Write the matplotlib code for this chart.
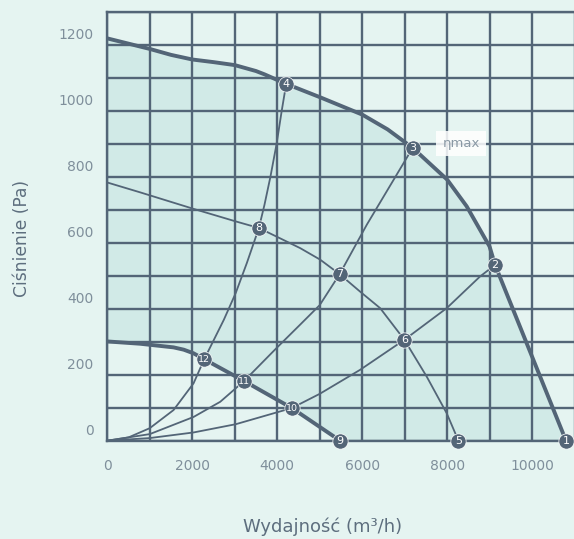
import matplotlib
matplotlib.use("Agg")
import matplotlib.pyplot as plt
import matplotlib.transforms as mtransforms
import numpy as np

# ---------------- data (flow m3/h, pressure Pa) ----------------
max_q = [0, 1000, 1500, 2000, 2500, 3000, 3500, 3700, 4212, 5000, 6000, 6600, 7190, 8000, 8460, 9000, 9130, 10800]
max_p = [1220, 1188, 1170, 1156, 1148, 1139, 1121, 1111, 1082, 1042, 989, 944, 888, 792, 711, 589, 533, 0]

mid_q = [0, 776, 2031, 3024, 3569, 4000, 4541, 5012, 5470, 5953, 6424, 6995, 7522, 7992, 8267]
mid_p = [783, 753, 703, 665, 645, 618, 584, 549, 505, 452, 402, 306, 194, 83, 0]

low_q = [0, 776, 1560, 1800, 2031, 2282, 3220, 4345, 5482]
low_p = [301, 294, 283, 276, 265, 247, 181, 99, 0]

sysA_q = [0, 500, 1000, 1560, 2031, 2282, 2745, 3024, 3286, 3569, 3700, 3840, 3986, 4106, 4212]
sysA_p = [0, 10, 38, 93, 174, 247, 367, 448, 539, 645, 715, 800, 900, 1000, 1082]

sysB_q = [0, 1000, 2031, 2659, 2900, 3220, 4000, 4541, 5000, 5470, 6110, 7190]
sysB_p = [0, 20, 72, 118, 145, 181, 283, 352, 411, 505, 655, 888]

sysC_q = [0, 1000, 2031, 3024, 4345, 5000, 5953, 6995, 7992, 8776, 9130]
sysC_p = [0, 8, 25, 50, 99, 142, 215, 306, 402, 498, 533]

point_labels = ["1", "2", "3", "4", "5", "6", "7", "8", "9", "10", "11", "12"]
point_q = [10800, 9130, 7190, 4212, 8267, 6995, 5470, 3569, 5482, 4345, 3220, 2282]
point_p = [0, 533, 888, 1082, 0, 306, 505, 645, 0, 99, 181, 247]

x_ticks = [0, 2000, 4000, 6000, 8000, 10000]
y_ticks = [0, 200, 400, 600, 800, 1000, 1200]

# ---------------- style ----------------
BG = "#e5f4f1"
SHADE = "#d1eae7"
LINE = "#536577"
TICK = "#7f8f9b"
LABEL = "#5d6e7e"

fig = plt.figure(figsize=(5.74, 5.39), dpi=100, facecolor=BG)
ax = fig.add_axes([107.3 / 574, 1 - 440.7 / 539, (574.5 - 107.3) / 574, (440.7 - 12) / 539])
ax.set_facecolor(BG)
ax.set_xlim(0, 11000)
ax.set_ylim(0, 1300)

# grid every 1000 m3/h and 100 Pa
ax.set_xticks(np.arange(0, 11001, 1000))
ax.set_yticks(np.arange(0, 1301, 100))
ax.set_xticklabels([f"{int(v)}" if v in x_ticks else "" for v in np.arange(0, 11001, 1000)])
ax.set_yticklabels([f"{int(v)}" if v in y_ticks else "" for v in np.arange(0, 1301, 100)])
ax.set_axisbelow(True)
ax.grid(True, color=LINE, lw=1.7)
ax.tick_params(length=0, colors=TICK, labelsize=10)
ax.tick_params(axis="x", pad=13)
ax.tick_params(axis="y", pad=10)
for s in ["left", "bottom", "top"]:
    ax.spines[s].set_color(LINE)
    ax.spines[s].set_linewidth(1.7)
ax.spines["right"].set_visible(False)

# shift y tick labels upward like the reference
off = mtransforms.ScaledTranslation(0, 11.5 / 100, fig.dpi_scale_trans)
for lbl in ax.get_yticklabels():
    lbl.set_transform(lbl.get_transform() + off)

# shaded working area
poly_q = list(max_q) + low_q[::-1]
poly_p = list(max_p) + low_p[::-1]
ax.fill(poly_q, poly_p, color=SHADE, zorder=0.2, lw=0)

# system curves (thin)
for q, p in [(sysA_q, sysA_p), (sysB_q, sysB_p), (sysC_q, sysC_p)]:
    ax.plot(q, p, color=LINE, lw=1.3, zorder=2, solid_joinstyle="round")
# speed curves
ax.plot(mid_q, mid_p, color=LINE, lw=1.3, zorder=2, solid_joinstyle="round")
ax.plot(max_q, max_p, color=LINE, lw=2.8, zorder=3, solid_joinstyle="round")
ax.plot(low_q, low_p, color=LINE, lw=2.8, zorder=3, solid_joinstyle="round")

# operating points
ax.plot(point_q, point_p, "o", ms=11, color=LINE, mec="white", mew=0.5, zorder=5, clip_on=False)
for lab, q, p in zip(point_labels, point_q, point_p):
    ax.text(q, p, lab, color="white", ha="center", va="center",
            fontsize=8 if len(lab) == 1 else 6.8, zorder=6, clip_on=False)

ax.text(8330, 900, "ηmax", color="#8a99a5", fontsize=9.5, ha="center", va="center",
        zorder=6, bbox=dict(boxstyle="square,pad=0.45", fc="white", ec="none", alpha=0.85))

fig.text(323 / 574, 1 - 527 / 539, "Wydajność (m³/h)", color=LABEL, fontsize=13,
         ha="center", va="center")
fig.text(22 / 574, 1 - 238 / 539, "Ciśnienie (Pa)", color=LABEL, fontsize=12.3,
         ha="center", va="center", rotation=90)

fig.savefig("out.png", dpi=100, facecolor=BG)
